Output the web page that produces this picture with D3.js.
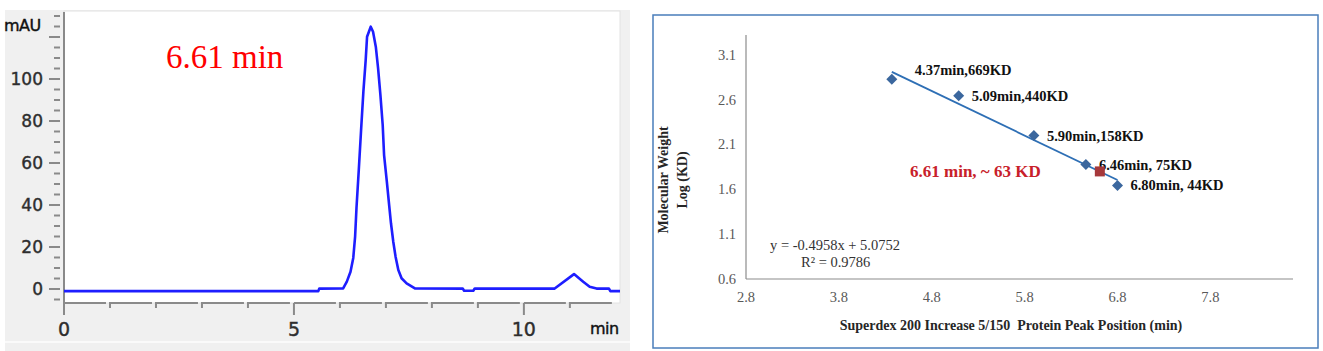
<!DOCTYPE html>
<html>
<head>
<meta charset="utf-8">
<script src="https://cdn.jsdelivr.net/npm/d3@7"></script>
<style>
  body { margin: 0; background: #fff; }
  svg { display: block; }
</style>
</head>
<body>
<svg id="chart" width="1323" height="351"></svg>
<script>
// chromatogram (left)
const traceTime = [0, 5.53, 5.55, 6.07, 6.15, 6.23, 6.29, 6.33, 6.36, 6.41, 6.46, 6.51, 6.56, 6.59, 6.67,
  6.72, 6.78, 6.83, 6.88, 6.93, 6.96, 7.02, 7.07, 7.11, 7.16, 7.21, 7.27, 7.34, 7.45, 7.63,
  8.67, 8.70, 8.90, 8.93, 10.67, 11.09, 11.29, 11.43, 11.58, 11.85, 11.88, 12.09];
const traceMAU = [-1.0, -1.0, 0.2, 0.3, 3.5, 8.2, 14.8, 24.9, 38.6, 56.7, 75.7, 94.0, 109.0, 120.1, 124.9,
  122.5, 115.4, 105.1, 92.4, 78.1, 63.8, 51.1, 40.0, 31.3, 22.5, 15.4, 9.0, 5.1, 2.7, 0.3,
  0.2, -0.8, -0.8, 0.2, 0.2, 7.1, 3.5, 1.1, 0.2, 0.2, -1.0, -1.0];
const leftYTicks = [0, 20, 40, 60, 80, 100];
const leftXTicks = [0, 5, 10];
const peakNote = "6.61 min";

// calibration (right)
const stdMinutes = [4.37, 5.09, 5.90, 6.46, 6.80];
const stdKD = [669, 440, 158, 75, 44];
const stdLabels = ["4.37min,669KD", "5.09min,440KD", "5.90min,158KD", "6.46min, 75KD", "6.80min, 44KD"];
const sampleMinutes = 6.61;
const sampleKD = 63;
const sampleLabel = "6.61 min, ~ 63 KD";
const fitSlope = -0.4958;
const fitIntercept = 5.0752;
const fitText = ["y = -0.4958x + 5.0752", "R² = 0.9786"];
const rightXTicks = [2.8, 3.8, 4.8, 5.8, 6.8, 7.8];
const rightYTicks = [0.6, 1.1, 1.6, 2.1, 2.6, 3.1];

const svg = d3.select("#chart");

drawChromatogram();
drawCalibration();

function drawChromatogram() {

    const g = svg.append("g");
    const axisCol = "#8a8a8a";
    const labelCol = "#2e2e2e";

    const x = d3.scaleLinear().domain([0, 12.09]).range([64, 620]);
    const y = d3.scaleLinear().domain([0, 100]).range([289, 79]);

    // window background + plot area
    g.append("rect").attr("x", 5).attr("y", 10).attr("width", 625).attr("height", 341).attr("fill", "#f0f0f0");
    g.append("rect").attr("x", 5).attr("y", 341).attr("width", 625).attr("height", 2).attr("fill", "#fafafa");
    g.append("rect")
        .attr("x", x(0)).attr("y", 11)
        .attr("width", x(12.09) - x(0)).attr("height", 303 - 11)
        .attr("fill", "#fff").attr("stroke", "#e2e2e2").attr("stroke-width", 1);

    // y axis
    g.append("line").attr("x1", 64).attr("x2", 64).attr("y1", 12).attr("y2", 315)
        .attr("stroke", axisCol).attr("stroke-width", 2);

    const minor = d3.range(-5, 131, 5);
    g.selectAll(".ytk").data(minor).join("line")
        .attr("x1", d => d % 20 === 0 ? 49 : 54)
        .attr("x2", 60)
        .attr("y1", d => y(d)).attr("y2", d => y(d))
        .attr("stroke", axisCol).attr("stroke-width", 2);

    g.selectAll(".ylab").data(leftYTicks).join("text")
        .attr("x", 43).attr("y", d => y(d) + 6)
        .attr("text-anchor", "end")
        .attr("font-family", "DejaVu Sans").attr("font-size", 17)
        .attr("fill", labelCol).attr("stroke", labelCol).attr("stroke-width", 0.4)
        .text(d => d);

    g.append("text").attr("x", 4).attr("y", 31)
        .attr("font-family", "DejaVu Sans").attr("font-size", 16)
        .attr("letter-spacing", -0.5)
        .attr("fill", "#111").attr("stroke", "#111").attr("stroke-width", 0.4)
        .text("mAU");

    // x axis, broken segments with small hooks like the instrument software
    const mins = d3.range(0, 12);
    g.selectAll(".xseg").data(mins).join("path")
        .attr("d", d => {
            const a = x(d), b = Math.min(x(d + 1) - 4, x(12.09));
            return `M${a},${d % 5 === 0 ? 303 : 308}V303H${b}`;
        })
        .attr("fill", "none").attr("stroke", axisCol).attr("stroke-width", 2);
    g.selectAll(".xmaj").data(leftXTicks).join("line")
        .attr("x1", d => x(d)).attr("x2", d => x(d))
        .attr("y1", 303).attr("y2", 315)
        .attr("stroke", axisCol).attr("stroke-width", 2);

    g.selectAll(".xlab").data(leftXTicks).join("text")
        .attr("x", d => x(d)).attr("y", 336)
        .attr("text-anchor", "middle")
        .attr("font-family", "DejaVu Sans").attr("font-size", 19)
        .attr("fill", labelCol).attr("stroke", labelCol).attr("stroke-width", 0.4)
        .text(d => d);

    g.append("text").attr("x", 590).attr("y", 334)
        .attr("font-family", "DejaVu Sans").attr("font-size", 16)
        .attr("letter-spacing", -0.5)
        .attr("fill", "#111").attr("stroke", "#111").attr("stroke-width", 0.4)
        .text("min");

    // trace
    const line = d3.line()
        .x(d => x(d[0]))
        .y(d => y(d[1]));

    g.append("path")
        .datum(d3.zip(traceTime, traceMAU))
        .attr("d", line)
        .attr("fill", "none")
        .attr("stroke", "#1e1eff")
        .attr("stroke-width", 2.6)
        .attr("stroke-linejoin", "round");

    g.append("text").attr("x", 166).attr("y", 68)
        .attr("font-family", "Liberation Serif").attr("font-size", 33)
        .attr("fill", "#ff0000").text(peakNote);
}

function drawCalibration() {

    const g = svg.append("g");
    const serif = "Liberation Serif";

    g.append("rect").attr("x", 653).attr("y", 15).attr("width", 665).attr("height", 333)
        .attr("fill", "#fff").attr("stroke", "#4a7ebb").attr("stroke-width", 1.5);

    const x = d3.scaleLinear().domain([2.8, 8.69]).range([746, 1293]);
    const y = d3.scaleLinear().domain([0.6, 3.32]).range([279, 35]);

    g.append("line").attr("x1", 746).attr("x2", 746).attr("y1", y(3.32)).attr("y2", y(0.6))
        .attr("stroke", "#8c8c8c").attr("stroke-width", 1.2);
    g.append("line").attr("x1", x(2.8)).attr("x2", x(8.69)).attr("y1", 279).attr("y2", 279)
        .attr("stroke", "#8c8c8c").attr("stroke-width", 1.2);

    g.selectAll(".ry").data(rightYTicks).join("text")
        .attr("x", 736).attr("y", d => y(d) + 5)
        .attr("text-anchor", "end")
        .attr("font-family", serif).attr("font-size", 14.5)
        .attr("fill", "#595959")
        .text(d => d.toFixed(1));

    g.selectAll(".rx").data(rightXTicks).join("text")
        .attr("x", d => x(d)).attr("y", 302)
        .attr("text-anchor", "middle")
        .attr("font-family", serif).attr("font-size", 14.5)
        .attr("fill", "#595959")
        .text(d => d.toFixed(1));

    // axis titles
    g.append("text")
        .attr("x", 1011).attr("y", 330)
        .attr("text-anchor", "middle")
        .attr("font-family", serif).attr("font-size", 14).attr("font-weight", "bold")
        .attr("fill", "#262626")
        .attr("xml:space", "preserve")
        .text("Superdex 200 Increase 5/150  Protein Peak Position (min)");

    const yt = g.append("text")
        .attr("transform", "translate(668,180) rotate(-90)")
        .attr("text-anchor", "middle")
        .attr("font-family", serif).attr("font-size", 14).attr("font-weight", "bold")
        .attr("fill", "#262626");
    yt.append("tspan").attr("x", 0).attr("dy", 0).text("Molecular Weight");
    yt.append("tspan").attr("x", 0).attr("dy", 19).text("Log (KD)");

    // trend line
    const x0 = d3.min(stdMinutes), x1 = d3.max(stdMinutes);
    g.append("line")
        .attr("x1", x(x0)).attr("y1", y(fitSlope * x0 + fitIntercept))
        .attr("x2", x(x1)).attr("y2", y(fitSlope * x1 + fitIntercept))
        .attr("stroke", "#2e6fb5").attr("stroke-width", 1.8);

    const pts = stdMinutes.map((m, i) => ({ m: m, v: Math.log10(stdKD[i]), label: stdLabels[i], i: i }));

    g.selectAll(".dia").data(pts).join("path")
        .attr("d", "M0,-5.5L5.5,0L0,5.5L-5.5,0Z")
        .attr("transform", d => `translate(${x(d.m)},${y(d.v)})`)
        .attr("fill", "#3b679e");

    g.selectAll(".plab").data(pts).join("text")
        .attr("x", d => x(d.m) + (d.i === 0 ? 23 : 13))
        .attr("y", d => y(d.v) + (d.i === 0 ? -9 : 0) + 5)
        .attr("font-family", serif).attr("font-size", 14.5).attr("font-weight", "bold")
        .attr("fill", "#111")
        .attr("xml:space", "preserve")
        .text(d => d.label);

    const sv = Math.log10(sampleKD);
    g.append("rect")
        .attr("x", x(sampleMinutes) - 5).attr("y", y(sv) - 5)
        .attr("width", 10).attr("height", 10)
        .attr("fill", "#a6383b");

    g.append("text")
        .attr("x", 910).attr("y", y(sv) + 6)
        .attr("font-family", serif).attr("font-size", 17).attr("font-weight", "bold")
        .attr("fill", "#c8202a")
        .text(sampleLabel);

    g.append("text").attr("x", 770).attr("y", 250)
        .attr("font-family", serif).attr("font-size", 14.5)
        .attr("fill", "#333")
        .text(fitText[0]);
    g.append("text").attr("x", 801).attr("y", 267)
        .attr("font-family", serif).attr("font-size", 14.5)
        .attr("fill", "#333")
        .text(fitText[1]);
}
</script>
</body>
</html>
